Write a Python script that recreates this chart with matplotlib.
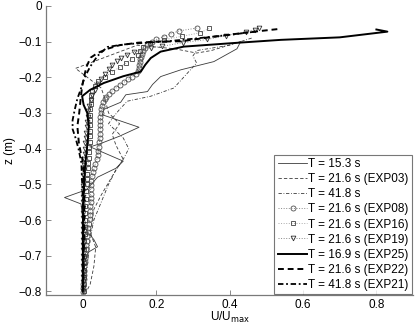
import matplotlib
matplotlib.use('Agg')
import matplotlib.pyplot as plt

plt.rcParams['font.family'] = ['Liberation Sans', 'DejaVu Sans']
plt.rcParams['font.size'] = 8.5

# T = 15.3 s (thin solid)
u_153 = [0.43, 0.42, 0.357, 0.267, 0.212, 0.19, 0.176, 0.117, 0.103, 0.08, 0.057, 0.053,
         0.153, 0.10, 0.05, 0.02, 0.11, 0.09, 0.04, 0.01, -0.05, -0.005, 0.0, 0.01, 0.03,
         0.04, 0.015, 0.005, 0.0, 0.0]
z_153 = [-0.10, -0.12, -0.156, -0.179, -0.198, -0.22, -0.24, -0.249, -0.27, -0.28, -0.29,
         -0.305, -0.340, -0.365, -0.385, -0.395, -0.435, -0.455, -0.48, -0.515, -0.537,
         -0.555, -0.60, -0.63, -0.655, -0.675, -0.69, -0.72, -0.76, -0.80]

# T = 21.6 s (EXP03) (thin dashed)
u_03 = [0.43, 0.35, 0.31, 0.25, 0.148, -0.02, 0.021, 0.05, 0.06, 0.07, 0.10, 0.08, 0.09,
        0.11, 0.09, 0.07, 0.05, 0.03, 0.02, 0.035, 0.03, 0.02, 0.01]
z_03 = [-0.10, -0.125, -0.132, -0.12, -0.11, -0.175, -0.207, -0.23, -0.26, -0.30, -0.33,
        -0.36, -0.39, -0.43, -0.46, -0.495, -0.53, -0.57, -0.635, -0.676, -0.73, -0.78, -0.80]

# T = 41.8 s (thin dash-dot)
u_418 = [0.46, 0.40, 0.31, 0.30, 0.31, 0.248, 0.185, 0.121, 0.10, 0.084, 0.07, 0.09, 0.11,
         0.125, 0.11, 0.09, 0.07, 0.05, 0.03, 0.02, 0.015, 0.01, 0.005]
z_418 = [-0.09, -0.11, -0.125, -0.14, -0.16, -0.23, -0.253, -0.267, -0.29, -0.31, -0.33,
         -0.35, -0.37, -0.40, -0.43, -0.46, -0.50, -0.55, -0.60, -0.65, -0.70, -0.75, -0.80]

# EXP08 (circles)
z_08 = [-0.062, -0.070, -0.078, -0.086, -0.094, -0.102, -0.110, -0.118, -0.126, -0.134,
        -0.142, -0.150, -0.158, -0.166, -0.174, -0.182, -0.190, -0.198, -0.206, -0.214,
        -0.222, -0.230, -0.238, -0.246, -0.254, -0.262, -0.270, -0.280, -0.290, -0.300,
        -0.310, -0.322, -0.334, -0.346, -0.358, -0.370, -0.382, -0.394, -0.406, -0.418,
        -0.430, -0.442, -0.454, -0.466, -0.478, -0.490, -0.502, -0.514, -0.526, -0.538,
        -0.550, -0.562, -0.574, -0.586, -0.598, -0.610, -0.622, -0.634, -0.646, -0.658,
        -0.670, -0.682, -0.694, -0.706, -0.718, -0.730, -0.742, -0.754, -0.766, -0.778,
        -0.790, -0.802]
u_08 = [0.310, 0.262, 0.240, 0.220, 0.200, 0.188, 0.176, 0.168, 0.163, 0.160,
        0.158, 0.157, 0.155, 0.154, 0.152, 0.150, 0.146, 0.135, 0.124, 0.112,
        0.100, 0.090, 0.080, 0.070, 0.064, 0.060, 0.056, 0.053, 0.050, 0.049,
        0.048, 0.048, 0.048, 0.048, 0.047, 0.046, 0.045, 0.044, 0.042, 0.040,
        0.038, 0.034, 0.031, 0.028, 0.025, 0.022, 0.021, 0.021, 0.021, 0.021,
        0.021, 0.020, 0.020, 0.020, 0.019, 0.017, 0.015, 0.013, 0.012, 0.010,
        0.009, 0.008, 0.007, 0.006, 0.005, 0.004, 0.004, 0.003, 0.002, 0.001,
        0.000, 0.000]

# EXP16 (squares)
z_16 = [-0.063, -0.075, -0.085, -0.095, -0.105, -0.115, -0.125, -0.137, -0.148, -0.160,
        -0.172, -0.185, -0.198, -0.211, -0.224, -0.237, -0.250, -0.263, -0.276, -0.290,
        -0.305, -0.320, -0.335, -0.350, -0.365, -0.380, -0.395, -0.410, -0.425, -0.440,
        -0.455, -0.470, -0.485, -0.500, -0.520, -0.540, -0.560, -0.580, -0.600, -0.620,
        -0.640, -0.660, -0.680, -0.700, -0.720, -0.740, -0.760, -0.780, -0.800]
u_16 = [0.344, 0.320, 0.270, 0.220, 0.182, 0.165, 0.156, 0.149, 0.134, 0.118,
        0.100, 0.080, 0.060, 0.040, 0.032, 0.026, 0.023, 0.021, 0.021, 0.020,
        0.020, 0.020, 0.020, 0.020, 0.019, 0.019, 0.018, 0.017, 0.016, 0.015,
        0.013, 0.012, 0.011, 0.010, 0.009, 0.008, 0.007, 0.006, 0.006, 0.005,
        0.005, 0.004, 0.004, 0.004, 0.003, 0.003, 0.002, 0.002, 0.002]

# EXP19 (triangles)
z_19 = [-0.062, -0.066, -0.072, -0.083, -0.094, -0.103, -0.113, -0.118, -0.128, -0.137,
        -0.145, -0.155, -0.165, -0.177, -0.190, -0.205, -0.220, -0.235, -0.250, -0.265,
        -0.280, -0.295, -0.310, -0.325, -0.340, -0.355, -0.370, -0.385, -0.400, -0.415,
        -0.430, -0.445, -0.460, -0.475, -0.490, -0.505, -0.520, -0.535, -0.550, -0.565,
        -0.580, -0.595, -0.610, -0.625, -0.640, -0.655, -0.670, -0.685, -0.700, -0.715,
        -0.730, -0.745, -0.760, -0.775, -0.790, -0.800]
u_19 = [0.480, 0.470, 0.445, 0.390, 0.338, 0.272, 0.216, 0.185, 0.140, 0.120,
        0.105, 0.092, 0.080, 0.070, 0.060, 0.050, 0.040, 0.032, 0.025, 0.021,
        0.018, 0.015, 0.013, 0.012, 0.010, 0.009, 0.008, 0.007, 0.006, 0.005,
        0.004, 0.003, 0.002, 0.001, 0.000, 0.000, 0.001, 0.000, -0.001, 0.000,
        0.001, 0.000, 0.000, -0.001, 0.000, 0.001, 0.000, 0.000, -0.001, 0.000,
        0.001, 0.000, 0.000, 0.000, 0.001, 0.000]

# EXP25 (thick solid)
u_25 = [0.80, 0.83, 0.70, 0.54, 0.41, 0.275, 0.212, 0.185, 0.170, 0.158, 0.11, 0.057,
        0.02, -0.002, 0.002, 0.012, 0.016, 0.014, 0.010, 0.006, 0.003, 0.001, 0.0, 0.0, 0.0]
z_25 = [-0.066, -0.072, -0.088, -0.095, -0.104, -0.114, -0.128, -0.146, -0.165, -0.184,
        -0.197, -0.216, -0.235, -0.253, -0.277, -0.30, -0.337, -0.37, -0.41, -0.45, -0.50,
        -0.55, -0.62, -0.70, -0.80]

# EXP22 (thick dashed)
u_22 = [0.53, 0.45, 0.366, 0.267, 0.20, 0.15, 0.10, 0.067, 0.04, 0.021, 0.01, 0.003,
        -0.002, -0.006, -0.010, -0.015, -0.013, -0.011, -0.006, -0.002, 0.002, 0.004,
        0.003, 0.002, 0.001]
z_22 = [-0.065, -0.074, -0.085, -0.099, -0.10, -0.103, -0.11, -0.12, -0.132, -0.145,
        -0.17, -0.20, -0.225, -0.26, -0.30, -0.337, -0.36, -0.383, -0.41, -0.425, -0.46,
        -0.55, -0.65, -0.72, -0.80]

# EXP21 (thick dash-dot)
u_21 = [0.47, 0.40, 0.30, 0.22, 0.16, 0.11, 0.067, 0.04, 0.02, 0.005, -0.008, -0.015,
        -0.022, -0.028, -0.028, -0.02, -0.012, -0.004, 0.0, 0.001, 0.0]
z_21 = [-0.072, -0.081, -0.092, -0.10, -0.104, -0.108, -0.115, -0.14, -0.17, -0.20, -0.24,
        -0.26, -0.29, -0.32, -0.345, -0.37, -0.40, -0.44, -0.55, -0.70, -0.80]

fig = plt.figure(figsize=(4.16, 3.31), dpi=100)
ax = fig.add_axes([0.111, 0.109, 0.882, 0.873])

thin = dict(color='#3a3a3a', lw=0.6)
ax.plot(u_153, z_153, '-', label='T = 15.3 s', **thin)
ax.plot(u_03, z_03, '--', dashes=(4, 2.5), label='T = 21.6 s (EXP03)', **thin)
ax.plot(u_418, z_418, '-.', dashes=(4, 2, 1, 2), label='T = 41.8 s', **thin)
ax.plot(u_08, z_08, ':', color='#888888', lw=0.7, marker='o', ms=3.6, mfc='none',
        mec='#505050', mew=0.6, label='T = 21.6 s (EXP08)')
ax.plot(u_16, z_16, ':', color='#aaaaaa', lw=0.7, marker='s', ms=2.6, mfc='none',
        mec='#404040', mew=0.6, label='T = 21.6 s (EXP16)')
ax.plot(u_19, z_19, ':', color='#888888', lw=0.7, marker='v', ms=3.4, mfc='none',
        mec='#303030', mew=0.6, label='T = 21.6 s (EXP19)')
ax.plot(u_25, z_25, '-', color='black', lw=1.4, label='T = 16.9 s (EXP25)')
ax.plot(u_22, z_22, '--', color='black', lw=1.4, dashes=(3, 2), label='T = 21.6 s (EXP22)')
ax.plot(u_21, z_21, '-.', color='black', lw=1.3, dashes=(3, 1.5, 1, 1.5),
        label='T = 41.8 s (EXP21)')

ax.set_xlim(-0.1, 0.9)
ax.set_ylim(-0.81, 0)
ax.set_xticks([0, 0.2, 0.4, 0.6, 0.8])
ax.set_xticklabels(['0', '0.2', '0.4', '0.6', '0.8'])
ax.set_yticks([0, -0.1, -0.2, -0.3, -0.4, -0.5, -0.6, -0.7, -0.8])
ax.set_yticklabels(['0', '\u22120.1', '\u22120.2', '\u22120.3', '\u22120.4', '\u22120.5',
                    '\u22120.6', '\u22120.7', '\u22120.8'])
ax.tick_params(direction='in', length=3.5, width=0.6, color='#777777', pad=3)
ax.spines['top'].set_visible(False)
ax.spines['right'].set_visible(False)
for side in ['left', 'bottom']:
    ax.spines[side].set_linewidth(0.9)
    ax.spines[side].set_color('#7a7a7a')

ax.set_xlabel('U/U$_{\\mathrm{max}}$', labelpad=-1)
ax.set_ylabel('z (m)', labelpad=2)

leg = ax.legend(loc='lower right', borderaxespad=0.05, handlelength=2.5,
                handletextpad=0.1, labelspacing=0.26, borderpad=0.3, fancybox=False,
                fontsize=8.5)
leg.get_frame().set_edgecolor('#555555')
leg.get_frame().set_linewidth(0.8)

fig.savefig('out.png', dpi=100)
